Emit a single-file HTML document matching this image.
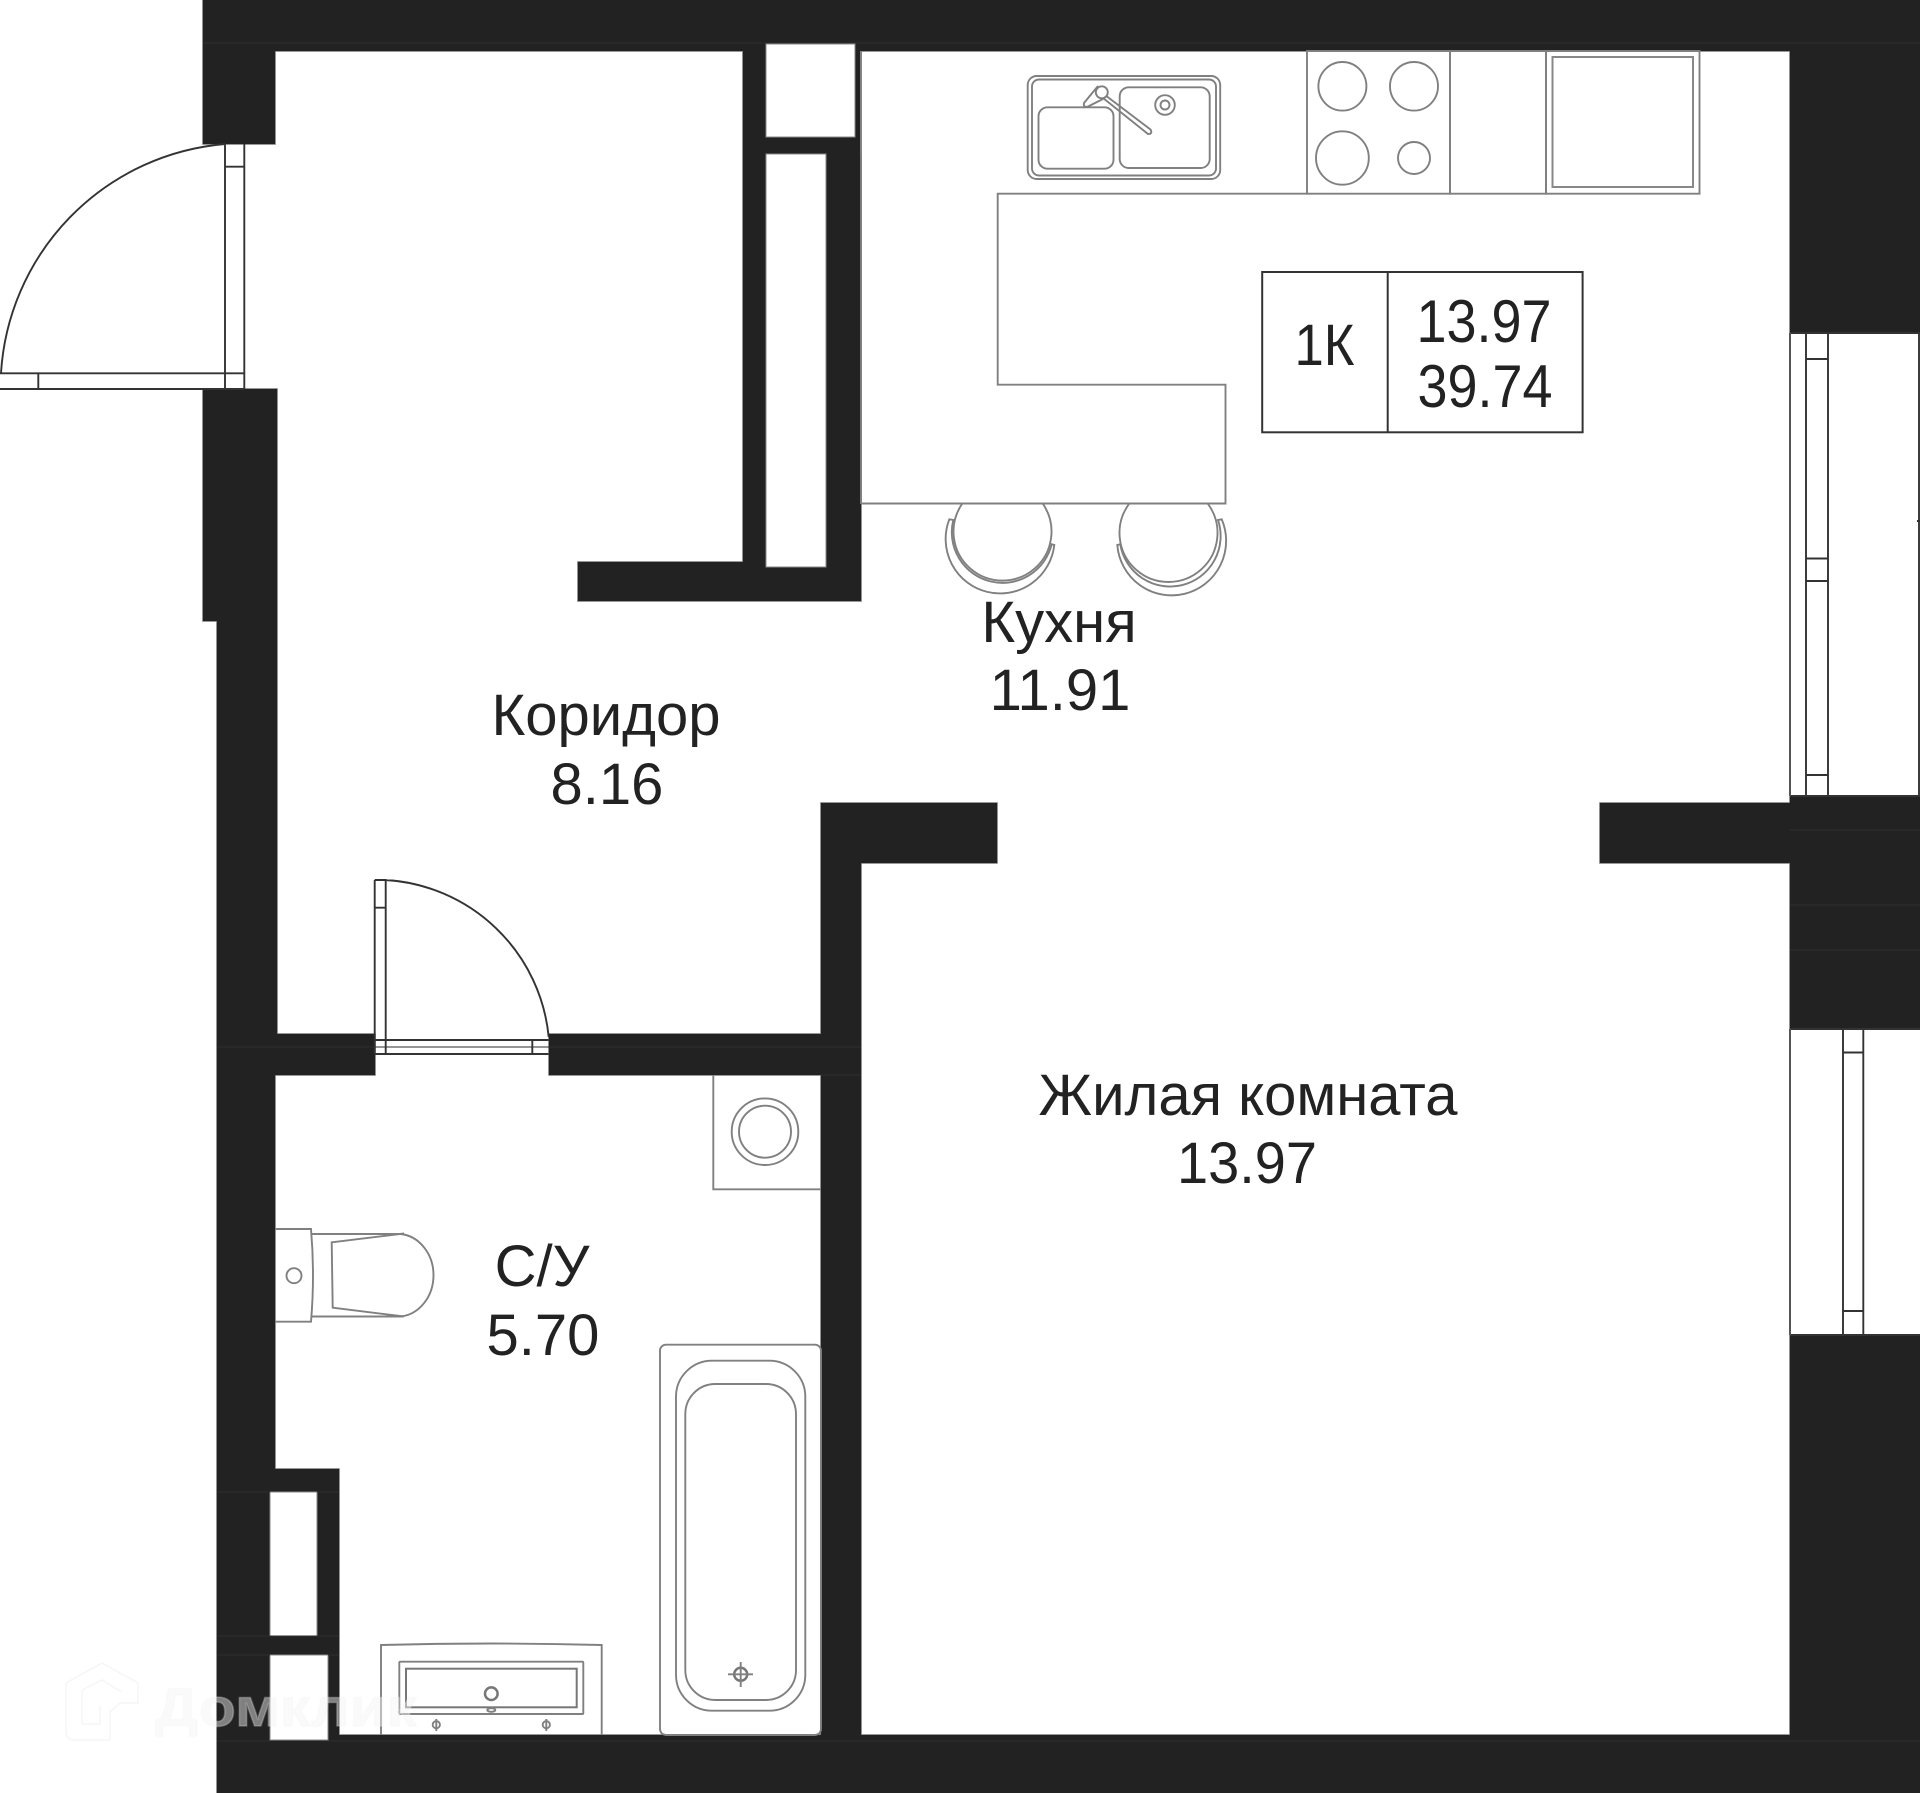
<!DOCTYPE html>
<html lang="ru"><head><meta charset="utf-8"><title>План квартиры</title>
<style>html,body{margin:0;padding:0;background:#fff}svg{display:block}
text{font-family:"Liberation Sans",Arial,sans-serif;fill:#222;font-size:58px;text-anchor:middle}
.b{font-size:60px}
.g{fill:none;stroke:#808080;stroke-width:1.9}
.d{fill:none;stroke:#333;stroke-width:1.9}
.k{fill:none;stroke:#333;stroke-width:2}
</style></head><body>
<svg xmlns="http://www.w3.org/2000/svg" width="1920" height="1793" viewBox="0 0 1920 1793">
<rect width="1920" height="1793" fill="#fff"/>
<defs><path id="w" d="M203 0H1920V51H203Z M203 0H275V144H203Z M203 389H277V621H203Z M217 621H277V1075H217Z M217 1034H375V1075H217Z M549 1034H861V1075H549Z M217 1075H275V1735H217Z M217 1469H339V1735H217Z M217 1735H1920V1793H217Z M821 803H861V1735H821Z M821 803H997V863H821Z M1790 0H1920V333H1790Z M1790 796H1920V1029H1790Z M1600 803H1790V863H1600Z M1790 1335H1920V1793H1790Z M743 51H766V562H743Z M743 137H860V154H743Z M826 154H861V601H826Z M578 562H861V601H578Z M855 51H860V137H855Z"/></defs>
<use href="#w" fill="none" stroke="#777" stroke-width="1.6"/>
<use href="#w" fill="#222"/>
<g fill="#fff" stroke="#888" stroke-width="1">
<rect x="766" y="44" width="89" height="93"/>
<rect x="766" y="154" width="60" height="413"/>
<rect x="270" y="1492" width="47" height="144"/>
<rect x="270" y="1655" width="58" height="85"/>
</g>
<!-- faint wall seams -->
<path d="M203 43H1920M217 1047H861M821 1075H861M217 1492H270M317 1492H339M217 1636H339M217 1655H270M328 1655H339M217 1741H270M328 1741H1920M1790 830H1920M1790 905H1920M1790 950H1920" stroke="#2e2e2e" stroke-width="1" fill="none"/>
<!-- kitchen -->
<path class="g" d="M861 51V504M861 503.500H1225.500V384.700H997.700V193.700H1307"/>
<rect class="g" x="1307" y="51" width="143" height="142.700"/>
<rect class="g" x="1450" y="51" width="96" height="142.700"/>
<rect class="g" x="1546" y="51" width="153.500" height="142.700"/>
<rect x="1552.500" y="57" width="140.500" height="130" fill="none" stroke="#888" stroke-width="2"/>
<rect class="g" x="1027.700" y="76" width="192.500" height="103" rx="9"/>
<rect class="g" x="1032" y="79.500" width="184" height="96" rx="7"/>
<rect class="g" x="1038.500" y="107.300" width="75" height="61.400" rx="9"/>
<rect class="g" x="1119.700" y="87.300" width="90" height="80.700" rx="9"/>
<circle class="g" cx="1165" cy="105" r="9.800"/><circle class="g" cx="1165" cy="105" r="4.500"/>
<path class="g" d="M1098 86L1084 103Q1083 107 1087 107L1103 99"/>
<path class="g" d="M1105 95L1150.500 129.500Q1153 134 1148 134L1103 98"/>
<circle class="g" cx="1101.800" cy="92.300" r="6" style="fill:#fff"/>
<ellipse class="g" cx="1342.400" cy="86.300" rx="24" ry="24.300"/>
<ellipse class="g" cx="1414" cy="86.300" rx="24" ry="24.300"/>
<ellipse class="g" cx="1342.400" cy="158" rx="26.400" ry="26.700"/>
<ellipse class="g" cx="1414" cy="158" rx="16" ry="16"/>
<!-- chairs -->
<path class="g" d="M962 504A49 49 0 1 0 1043 504"/>
<path class="g" d="M949.300 519.300A54.500 54.500 0 1 0 1054.300 545L1051.700 544.300A50.500 50.500 0 1 1 953.300 520Z"/>
<path class="g" d="M1129 504A49 49 0 1 0 1208 504"/>
<path class="g" d="M1221.700 519.300A54.500 54.500 0 1 1 1117.300 545L1120.300 544.300A50.500 50.500 0 1 0 1218 520Z"/>
<!-- info box -->
<rect class="k" x="1262.200" y="272" width="320.400" height="160.300"/>
<path class="k" d="M1387.700 272V432.300"/>
<text x="1324.500" y="365" textLength="60" lengthAdjust="spacingAndGlyphs">1К</text>
<text class="b" x="1484" y="342" textLength="135" lengthAdjust="spacingAndGlyphs">13.97</text>
<text class="b" x="1485" y="407" textLength="135" lengthAdjust="spacingAndGlyphs">39.74</text>
<!-- entrance door -->
<path class="d" d="M225 144V389M244.300 144V389M225 166.700H244.300M0 373.300H244.300M0 389H244.300M38.300 373.300V389M1 373A245 245 0 0 1 225 144"/>
<!-- bathroom door -->
<path class="d" d="M374.700 880H385.700V1054M374.700 880V1054M374.700 907.700H385.700M374.700 1040H548.700M374.700 1054H548.700M532.300 1040V1054M385.700 880A174 174 0 0 1 548.700 1037"/>
<!-- windows -->
<path class="d" d="M1790 333H1920M1790 796H1920M1806 333V796M1828 333V796M1806 359H1828M1806 558.500H1828M1806 581H1828M1806 775H1828M1919 333V796M1917 521H1920"/>
<path class="d" d="M1790 1029H1920M1790 1335H1920M1843 1029V1335M1863.300 1029V1335M1843 1052.500H1863.300M1843 1311H1863.300"/>
<path d="M1790 333V796M1790 1029V1335" fill="none" stroke="#555" stroke-width="2"/>
<!-- washing machine -->
<path class="g" d="M713.300 1075V1189.300H821"/>
<circle class="g" cx="765" cy="1131.700" r="33.300"/><circle class="g" cx="765" cy="1131.700" r="26"/>
<!-- toilet -->
<path class="g" d="M275 1229H311Q315 1275 311 1321.700H275"/>
<circle class="g" cx="294" cy="1275.700" r="7.500"/>
<path class="g" d="M312 1234H401A36.500 41.500 0 0 1 401 1316.500H312"/>
<path class="g" d="M404 1233.500L331.700 1242.300L332.700 1307.700L404 1316.500"/>
<!-- bathtub -->
<rect class="g" x="660" y="1344.700" width="161" height="390.300" rx="6"/>
<rect class="g" x="676" y="1360.700" width="129.300" height="350" rx="36"/>
<rect class="g" x="685.300" y="1384" width="110.700" height="316" rx="30"/>
<circle cx="740.700" cy="1674.300" r="6.500" fill="none" stroke="#777" stroke-width="2.500"/>
<path class="g" d="M728 1674.300H753M740.700 1662V1687"/>
<!-- basin -->
<path class="g" d="M381 1735V1645Q491 1642 601.700 1645V1735"/>
<rect class="g" x="399.300" y="1661.700" width="184" height="52.300" rx="1"/>
<rect x="406" y="1668.700" width="170.700" height="38.600" fill="none" stroke="#777" stroke-width="2"/>
<circle cx="491.300" cy="1693.700" r="6.300" fill="none" stroke="#777" stroke-width="2.500"/>
<ellipse class="g" cx="491.300" cy="1710" rx="4" ry="1.800"/>
<g class="g"><circle cx="436.300" cy="1724.700" r="3.600"/><path d="M436.300 1719V1731"/><circle cx="546.300" cy="1724.700" r="3.600"/><path d="M546.300 1719V1731"/></g>
<!-- labels -->
<text x="1059" y="642">Кухня</text>
<text x="1060" y="710">11.91</text>
<text x="606" y="735">Коридор</text>
<text x="607" y="804">8.16</text>
<text x="1248" y="1115">Жилая комната</text>
<text x="1247" y="1183" textLength="140" lengthAdjust="spacingAndGlyphs">13.97</text>
<text x="542" y="1286">С/У</text>
<text x="543" y="1355">5.70</text>
<!-- watermark -->
<path d="M66 1683L102 1663L138 1683V1703H120L110 1712V1740H75Q66 1740 66 1731Z M82 1690L102 1680L122 1692 M82 1690V1724H100V1706" fill="none" stroke="#000" stroke-opacity=".04" stroke-width="1.500"/>
<text x="155" y="1726" textLength="262" lengthAdjust="spacingAndGlyphs" style="font-size:54px;font-weight:bold;text-anchor:start;fill:rgba(245,245,245,.45);stroke:rgba(245,245,245,.25);stroke-width:1.500px">Домклик</text>
</svg>
</body></html>
